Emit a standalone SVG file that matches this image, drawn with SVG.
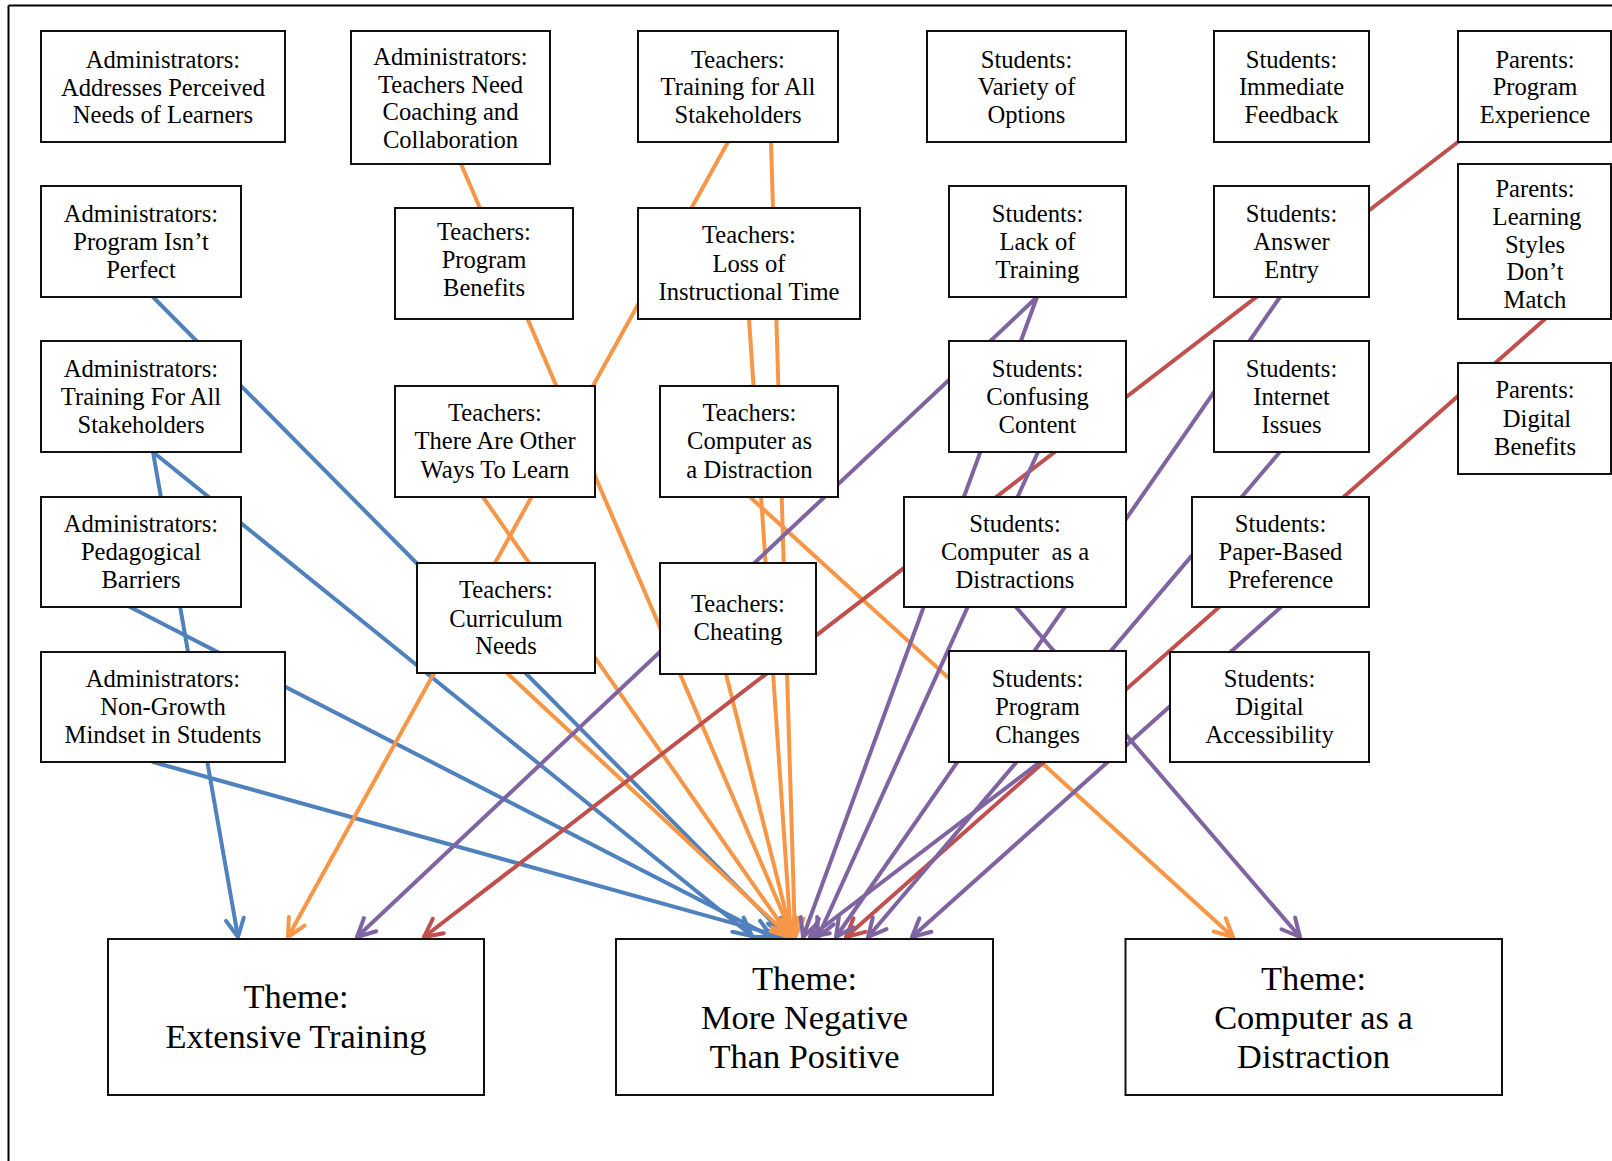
<svg xmlns="http://www.w3.org/2000/svg" width="1612" height="1161" viewBox="0 0 1612 1161">
<defs>
<style>
.box{fill:#fff;stroke:#111;stroke-width:2}
.t{font-family:"Liberation Serif","Times New Roman",serif;font-size:24.6px;text-anchor:middle;fill:#000}
.th{font-family:"Liberation Serif","Times New Roman",serif;font-size:34.4px;text-anchor:middle;fill:#000}
.c{fill:none;stroke-width:4;stroke-linecap:round}
.blue{stroke:#4F81BD}
.orange{stroke:#F79646}
.red{stroke:#C0504D}
.purple{stroke:#8064A2}
</style>
<marker id="mb" markerUnits="userSpaceOnUse" viewBox="-22 -12 26 24" refX="0" refY="0" markerWidth="26" markerHeight="24" orient="auto"><path d="M-18,-9 L0,0 L-18,9" fill="none" stroke="#4F81BD" stroke-width="4" stroke-linecap="round" stroke-linejoin="round"/></marker>
<marker id="mo" markerUnits="userSpaceOnUse" viewBox="-22 -12 26 24" refX="0" refY="0" markerWidth="26" markerHeight="24" orient="auto"><path d="M-18,-9 L0,0 L-18,9" fill="none" stroke="#F79646" stroke-width="4" stroke-linecap="round" stroke-linejoin="round"/></marker>
<marker id="mr" markerUnits="userSpaceOnUse" viewBox="-22 -12 26 24" refX="0" refY="0" markerWidth="26" markerHeight="24" orient="auto"><path d="M-18,-9 L0,0 L-18,9" fill="none" stroke="#C0504D" stroke-width="4" stroke-linecap="round" stroke-linejoin="round"/></marker>
<marker id="mp" markerUnits="userSpaceOnUse" viewBox="-22 -12 26 24" refX="0" refY="0" markerWidth="26" markerHeight="24" orient="auto"><path d="M-18,-9 L0,0 L-18,9" fill="none" stroke="#8064A2" stroke-width="4" stroke-linecap="round" stroke-linejoin="round"/></marker>
</defs>
<rect width="1612" height="1161" fill="#fff"/>
<g id="frame" stroke="#000" stroke-width="2" fill="none">
<line x1="8.5" y1="5.5" x2="1612" y2="5.5"/>
<line x1="8.5" y1="5.5" x2="8.5" y2="1161"/>
</g>
<g id="connectors">
<path class="c blue" d="M153,297 L787,937" marker-end="url(#mb)"/>
<path class="c blue" d="M153,452 L238,937" marker-end="url(#mb)"/>
<path class="c blue" d="M153,452 L752,936" marker-end="url(#mb)"/>
<path class="c blue" d="M130,607 L772,937" marker-end="url(#mb)"/>
<path class="c blue" d="M153,762 L783,937" marker-end="url(#mb)"/>
<path class="c orange" d="M461,164 L793,937" marker-end="url(#mo)"/>
<path class="c orange" d="M728,142 L288,937" marker-end="url(#mo)"/>
<path class="c orange" d="M771,142 L795,937" marker-end="url(#mo)"/>
<path class="c orange" d="M749,319 L791,937" marker-end="url(#mo)"/>
<path class="c orange" d="M483,497 L790,937" marker-end="url(#mo)"/>
<path class="c orange" d="M507,673 L790,937" marker-end="url(#mo)"/>
<path class="c orange" d="M726,674 L792,937" marker-end="url(#mo)"/>
<path class="c orange" d="M750,497 L1233,937" marker-end="url(#mo)"/>
<path class="c red" d="M1458,142 L424,937" marker-end="url(#mr)"/>
<path class="c red" d="M1545,319 L846,937" marker-end="url(#mr)"/>
<path class="c purple" d="M1037,297 L357,937" marker-end="url(#mp)"/>
<path class="c purple" d="M1037,297 L803,937" marker-end="url(#mp)"/>
<path class="c purple" d="M1038,452 L818,937" marker-end="url(#mp)"/>
<path class="c purple" d="M1280,297 L836,937" marker-end="url(#mp)"/>
<path class="c purple" d="M1279,453 L868,937" marker-end="url(#mp)"/>
<path class="c purple" d="M1016,607 L1300,937" marker-end="url(#mp)"/>
<path class="c purple" d="M1281,607 L912,937" marker-end="url(#mp)"/>
<path class="c purple" d="M1040,762 L810,937" marker-end="url(#mp)"/>
</g>
<g id="a1"><rect class="box" x="41" y="31" width="244" height="111"/><text class="t" x="163"><tspan x="163" y="68">Administrators:</tspan><tspan x="163" y="95.5">Addresses Perceived</tspan><tspan x="163" y="123">Needs of Learners</tspan></text></g>
<g id="a2"><rect class="box" x="351" y="31" width="199" height="133"/><text class="t"><tspan x="450.5" y="65">Administrators:</tspan><tspan x="450.5" y="92.5">Teachers Need</tspan><tspan x="450.5" y="120">Coaching and</tspan><tspan x="450.5" y="147.5">Collaboration</tspan></text></g>
<g id="t1"><rect class="box" x="638" y="31" width="200" height="111"/><text class="t"><tspan x="738" y="67.5">Teachers:</tspan><tspan x="738" y="95">Training for All</tspan><tspan x="738" y="123">Stakeholders</tspan></text></g>
<g id="s1"><rect class="box" x="927" y="31" width="199" height="111"/><text class="t"><tspan x="1026.5" y="67.5">Students:</tspan><tspan x="1026.5" y="95">Variety of</tspan><tspan x="1026.5" y="123">Options</tspan></text></g>
<g id="s2"><rect class="box" x="1214" y="31" width="155" height="111"/><text class="t"><tspan x="1291.5" y="67.5">Students:</tspan><tspan x="1291.5" y="95">Immediate</tspan><tspan x="1291.5" y="123">Feedback</tspan></text></g>
<g id="p1"><rect class="box" x="1458" y="31" width="153" height="111"/><text class="t"><tspan x="1535" y="67.5">Parents:</tspan><tspan x="1535" y="95">Program</tspan><tspan x="1535" y="123">Experience</tspan></text></g>
<g id="a3"><rect class="box" x="41" y="186" width="200" height="111"/><text class="t"><tspan x="141" y="222">Administrators:</tspan><tspan x="141" y="250">Program Isn’t</tspan><tspan x="141" y="278">Perfect</tspan></text></g>
<g id="t2"><rect class="box" x="395" y="208" width="178" height="111"/><text class="t"><tspan x="484" y="240">Teachers:</tspan><tspan x="484" y="268">Program</tspan><tspan x="484" y="295.5">Benefits</tspan></text></g>
<g id="t3"><rect class="box" x="638" y="208" width="222" height="111"/><text class="t"><tspan x="749" y="243">Teachers:</tspan><tspan x="749" y="271.5">Loss of</tspan><tspan x="749" y="300">Instructional Time</tspan></text></g>
<g id="s3"><rect class="box" x="949" y="186" width="177" height="111"/><text class="t"><tspan x="1037.5" y="222">Students:</tspan><tspan x="1037.5" y="250">Lack of</tspan><tspan x="1037.5" y="278">Training</tspan></text></g>
<g id="s4"><rect class="box" x="1214" y="186" width="155" height="111"/><text class="t"><tspan x="1291.5" y="222">Students:</tspan><tspan x="1291.5" y="250">Answer</tspan><tspan x="1291.5" y="278">Entry</tspan></text></g>
<g id="p2"><rect class="box" x="1458" y="164" width="153" height="155"/><text class="t"><tspan x="1535" y="197">Parents:</tspan><tspan x="1537" y="225">Learning</tspan><tspan x="1535" y="252.5">Styles</tspan><tspan x="1535" y="280">Don’t</tspan><tspan x="1535" y="308">Match</tspan></text></g>
<g id="a4"><rect class="box" x="41" y="341" width="200" height="111"/><text class="t"><tspan x="141" y="377">Administrators:</tspan><tspan x="141" y="405">Training For All</tspan><tspan x="141" y="433">Stakeholders</tspan></text></g>
<g id="t4"><rect class="box" x="395" y="386" width="200" height="111"/><text class="t"><tspan x="495" y="421">Teachers:</tspan><tspan x="495" y="449">There Are Other</tspan><tspan x="495" y="478">Ways To Learn</tspan></text></g>
<g id="t5"><rect class="box" x="660" y="386" width="178" height="111"/><text class="t"><tspan x="749.5" y="421">Teachers:</tspan><tspan x="749.5" y="449">Computer as</tspan><tspan x="749.5" y="478">a Distraction</tspan></text></g>
<g id="s5"><rect class="box" x="949" y="341" width="177" height="111"/><text class="t"><tspan x="1037.5" y="377">Students:</tspan><tspan x="1037.5" y="405">Confusing</tspan><tspan x="1037.5" y="433">Content</tspan></text></g>
<g id="s6"><rect class="box" x="1214" y="341" width="155" height="111"/><text class="t"><tspan x="1291.5" y="377">Students:</tspan><tspan x="1291.5" y="405">Internet</tspan><tspan x="1291.5" y="433">Issues</tspan></text></g>
<g id="p3"><rect class="box" x="1458" y="363" width="153" height="111"/><text class="t"><tspan x="1535" y="398">Parents:</tspan><tspan x="1537" y="427">Digital</tspan><tspan x="1535" y="455">Benefits</tspan></text></g>
<g id="a5"><rect class="box" x="41" y="497" width="200" height="110"/><text class="t"><tspan x="141" y="532">Administrators:</tspan><tspan x="141" y="560">Pedagogical</tspan><tspan x="141" y="588">Barriers</tspan></text></g>
<g id="t6"><rect class="box" x="417" y="563" width="178" height="110"/><text class="t"><tspan x="506" y="598">Teachers:</tspan><tspan x="506" y="626.5">Curriculum</tspan><tspan x="506" y="654">Needs</tspan></text></g>
<g id="t7"><rect class="box" x="660" y="563" width="156" height="111"/><text class="t"><tspan x="738" y="612">Teachers:</tspan><tspan x="738" y="640">Cheating</tspan></text></g>
<g id="s7"><rect class="box" x="904" y="497" width="222" height="110"/><text class="t"><tspan x="1015" y="532">Students:</tspan><tspan x="1015" y="560">Computer&#160; as a</tspan><tspan x="1015" y="588">Distractions</tspan></text></g>
<g id="s8"><rect class="box" x="1192" y="497" width="177" height="110"/><text class="t"><tspan x="1280.5" y="532">Students:</tspan><tspan x="1280.5" y="560">Paper-Based</tspan><tspan x="1280.5" y="588">Preference</tspan></text></g>
<g id="a6"><rect class="box" x="41" y="652" width="244" height="110"/><text class="t"><tspan x="163" y="687">Administrators:</tspan><tspan x="163" y="715">Non-Growth</tspan><tspan x="163" y="743">Mindset in Students</tspan></text></g>
<g id="s9"><rect class="box" x="949" y="651" width="177" height="111"/><text class="t"><tspan x="1037.5" y="687">Students:</tspan><tspan x="1037.5" y="715">Program</tspan><tspan x="1037.5" y="743">Changes</tspan></text></g>
<g id="s10"><rect class="box" x="1170" y="652" width="199" height="110"/><text class="t"><tspan x="1269.5" y="687">Students:</tspan><tspan x="1269.5" y="715">Digital</tspan><tspan x="1269.5" y="743">Accessibility</tspan></text></g>
<g id="th1"><rect class="box" x="108" y="939" width="376" height="156"/><text class="th"><tspan x="296" y="1008">Theme:</tspan><tspan x="296" y="1048">Extensive Training</tspan></text></g>
<g id="th2"><rect class="box" x="616" y="939" width="377" height="156"/><text class="th"><tspan x="804.5" y="990">Theme:</tspan><tspan x="804.5" y="1029">More Negative</tspan><tspan x="804.5" y="1068">Than Positive</tspan></text></g>
<g id="th3"><rect class="box" x="1125.5" y="939" width="376.5" height="156"/><text class="th"><tspan x="1313.5" y="990">Theme:</tspan><tspan x="1313.5" y="1029">Computer as a</tspan><tspan x="1313.5" y="1068">Distraction</tspan></text></g>
</svg>
